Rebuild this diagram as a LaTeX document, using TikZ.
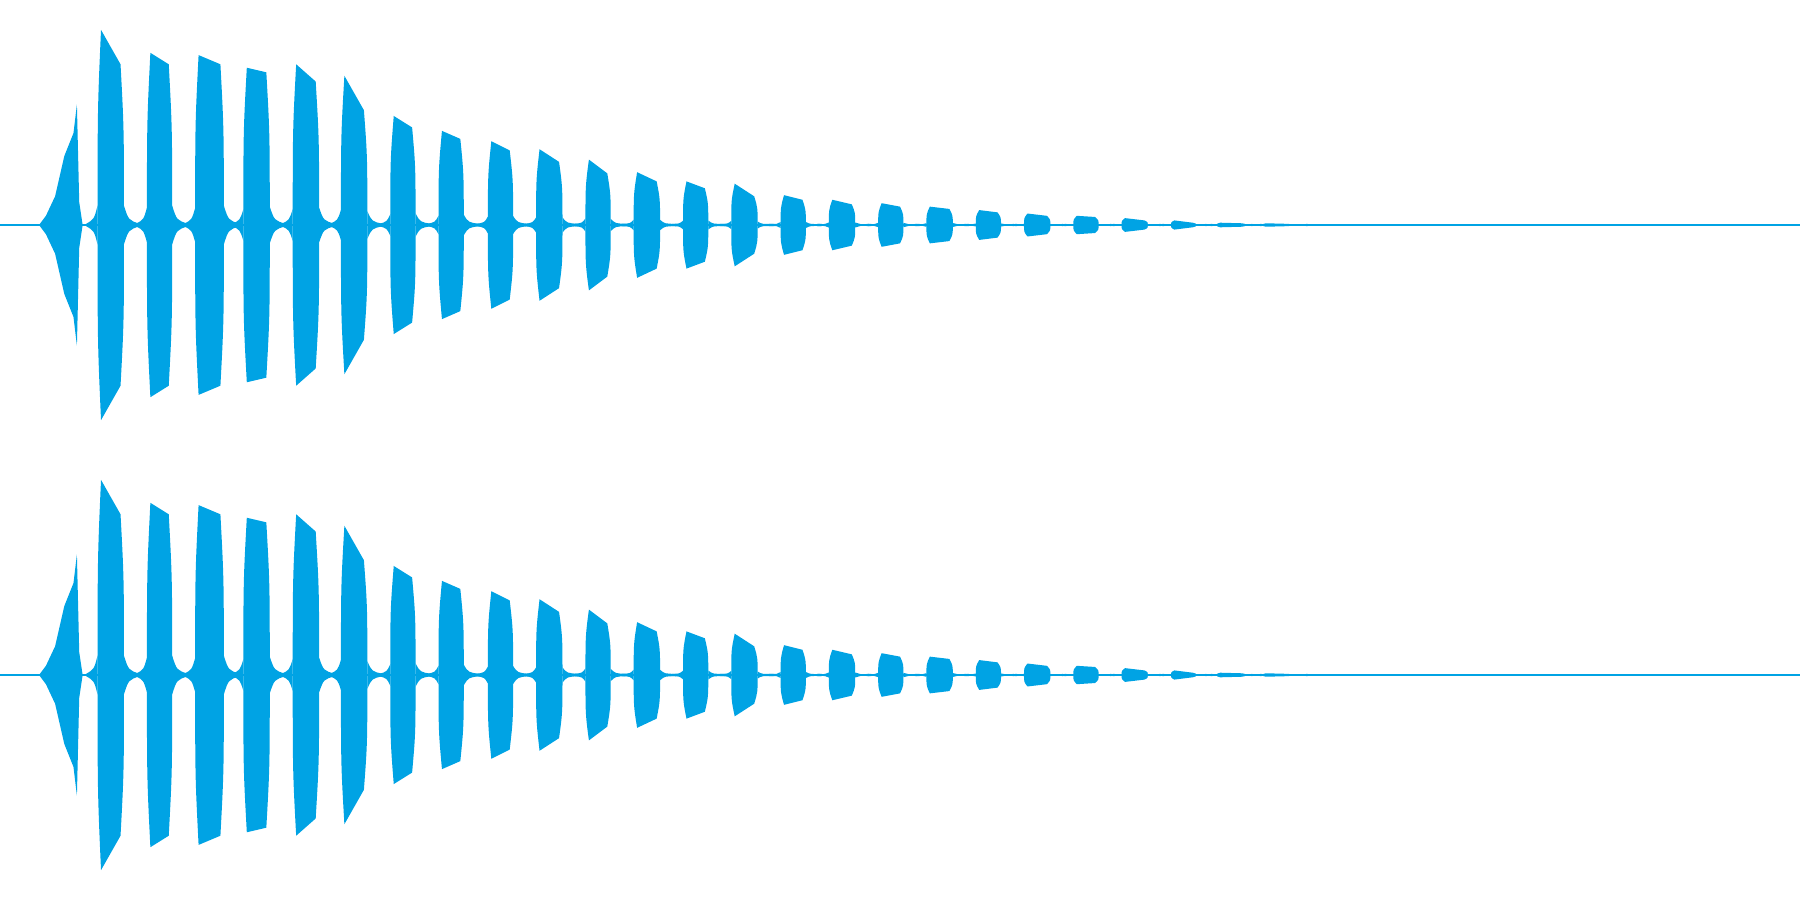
\documentclass[tikz,border=0pt]{standalone}
\definecolor{wave}{HTML}{00A3E4}
\begin{document}
\begin{tikzpicture}[x=0.1mm,y=-0.1mm,burst/.style={fill=wave,draw=none}]
\useasboundingbox (0,0) rectangle (1568,784);
\foreach \c in {196,588}{
  \draw[wave,line width=0.1mm] (0,\c) -- (1568,\c);
  \fill[wave] (34,\c) -- (40,\c-8) -- (48,\c-25) -- (56,\c-60) -- (64,\c-80) -- (67,\c-105) -- (69,\c-20) -- (72,\c)
     -- (69,\c+20) -- (67,\c+105) -- (64,\c+80) -- (56,\c+60) -- (48,\c+25) -- (40,\c+8) -- cycle;
  \foreach \xa/\xb/\aa/\ab in {85/108/170/140,128/150/150/140,170/195/148/140,212/235/137/133,255/278/140/125,297/320/130/100,340/362/95/85,382/404/82/75,425/447/73/65,467/490/66/55,510/532/57/45,552/575/46/38,595/617/38/32,637/660/36/25,680/702/26/22,722/745/22/18,765/787/19/16,807/830/16/14,850/872/13/11,892/915/10/8,935/957/8/7,977/1000/6/4,1020/1042/4/2,1060/1085/2/1.5,1100/1125/1.5/1}{
    \fill[burst] (\xa,\c) .. controls (\xa,\c-\aa*0.6) .. (\xa+3,\c-\aa) -- (\xb-3,\c-\ab) .. controls (\xb,\c-\ab*0.6) .. (\xb,\c)
      .. controls (\xb,\c+\ab*0.6) .. (\xb-3,\c+\ab) -- (\xa+3,\c+\aa) .. controls (\xa,\c+\aa*0.6) .. (\xa,\c) -- cycle;
    \fill[burst] (\xb,\c-0.5) -- (\xb,\c-\ab*0.12) .. controls (\xb+4,\c-\ab*0.03) .. (\xb+14,\c-1) -- (\xb+14,\c-0.5) -- cycle;
    \fill[burst] (\xb,\c+0.5) -- (\xb,\c+\ab*0.12) .. controls (\xb+4,\c+\ab*0.03) .. (\xb+14,\c+1) -- (\xb+14,\c+0.5) -- cycle;
    \fill[burst] (\xa,\c-0.5) -- (\xa,\c-\aa*0.1) .. controls (\xa-3,\c-\aa*0.03) .. (\xa-10,\c-1) -- (\xa-10,\c-0.5) -- cycle;
    \fill[burst] (\xa,\c+0.5) -- (\xa,\c+\aa*0.1) .. controls (\xa-3,\c+\aa*0.03) .. (\xa-10,\c+1) -- (\xa-10,\c+0.5) -- cycle;
  }
}
\end{tikzpicture}
\end{document}
